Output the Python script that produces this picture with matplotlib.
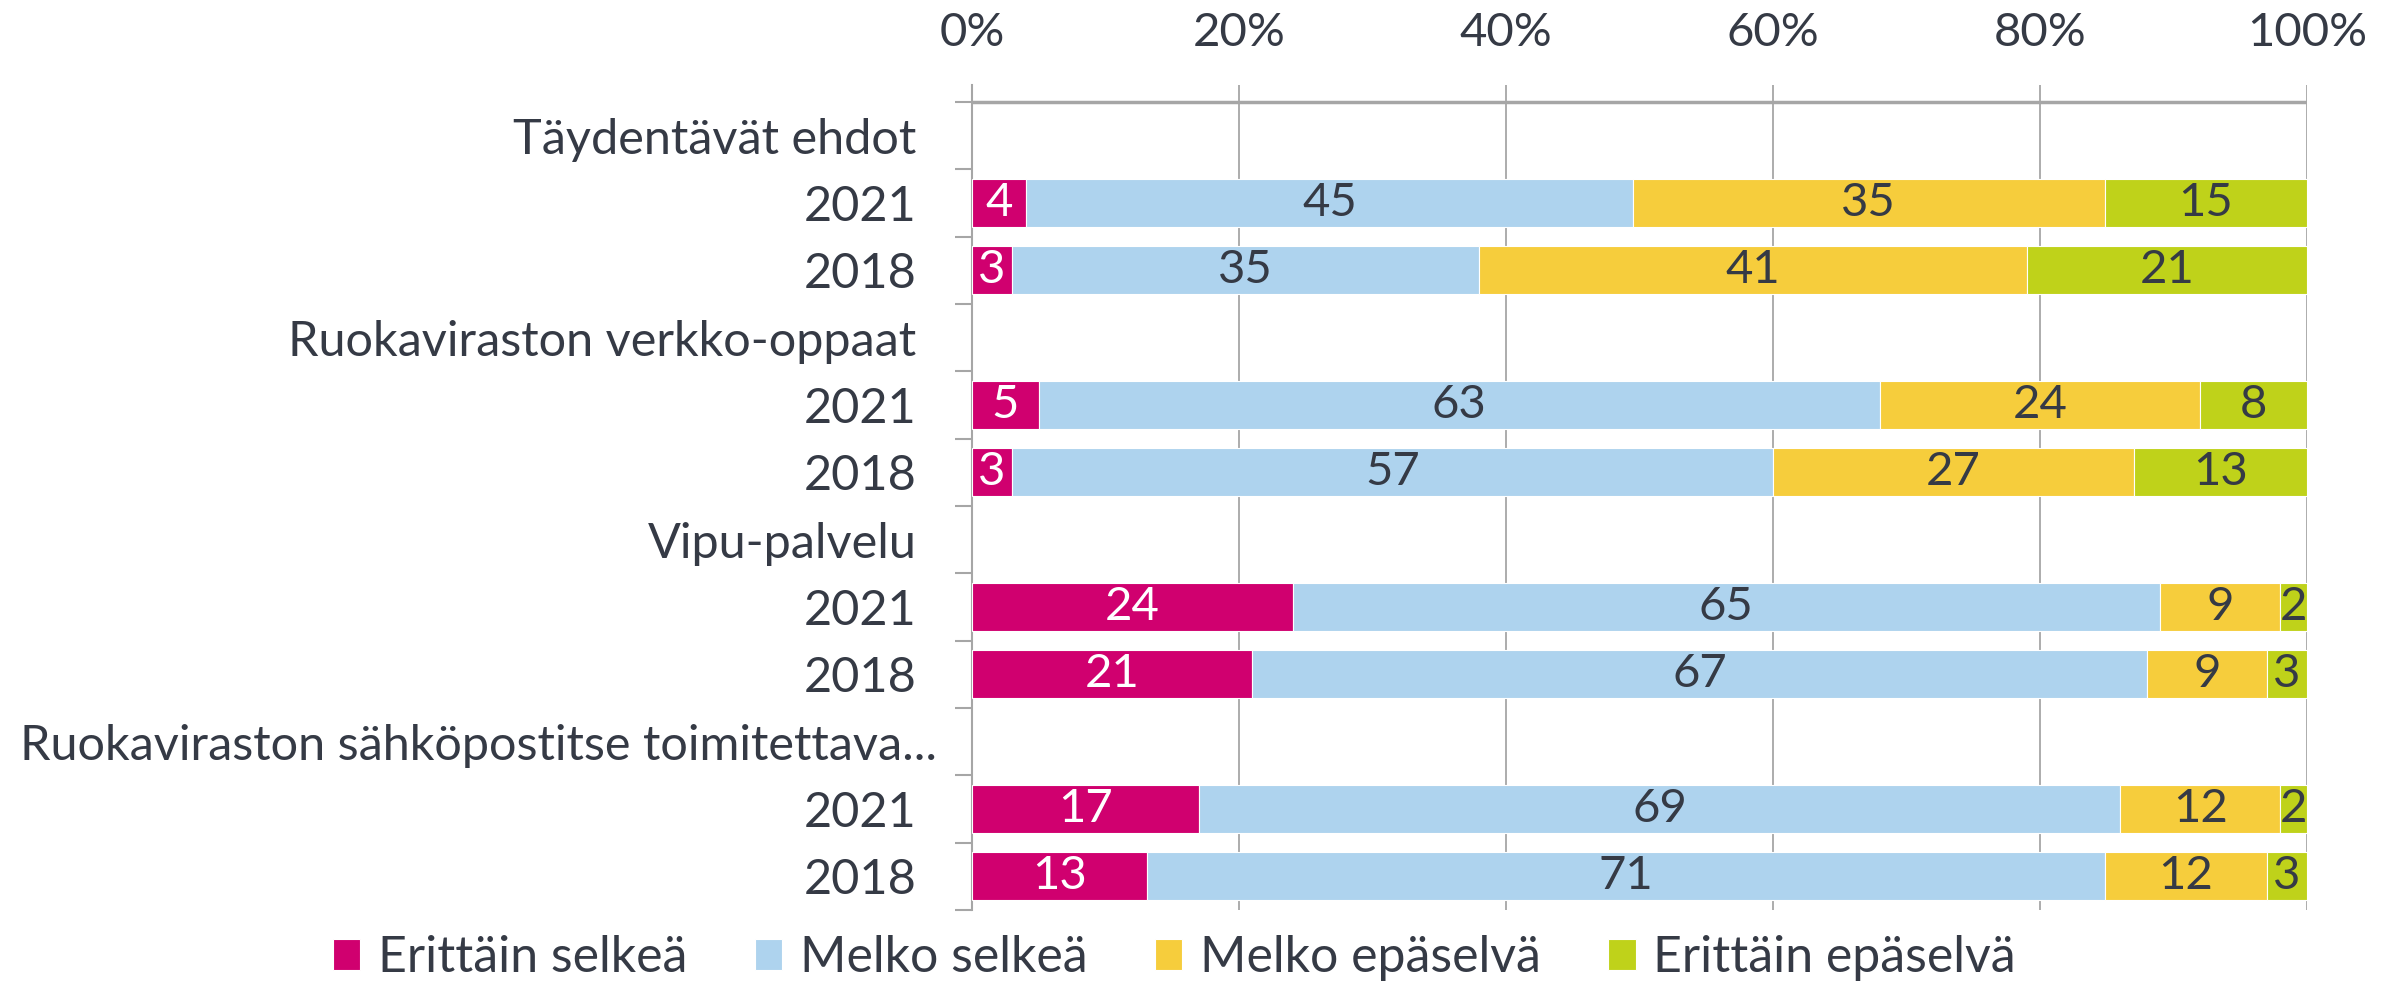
import numpy as np
import matplotlib.pyplot as plt
from matplotlib.transforms import ScaledTranslation

# Chart data: rows from top to bottom (group headers have no bar).
rowLabels = ["Täydentävät ehdot", "2021", "2018",
             "Ruokaviraston verkko-oppaat", "2021", "2018",
             "Vipu-palvelu", "2021", "2018",
             "Ruokaviraston sähköpostitse toimitettava...", "2021", "2018"]
seriesNames = ["Erittäin selkeä", "Melko selkeä", "Melko epäselvä", "Erittäin epäselvä"]
seriesColors = ["#D0006F", "#AED3EE", "#F6CD3C", "#BFD21A"]
labelColors = ["white", "#353A45", "#353A45", "#353A45"]

# Values per row (None = group header row).
erittainSelkea = [None, 4, 3, None, 5, 3, None, 24, 21, None, 17, 13]
melkoSelkea = [None, 45, 35, None, 63, 57, None, 65, 67, None, 69, 71]
melkoEpaselva = [None, 35, 41, None, 24, 27, None, 9, 9, None, 12, 12]
erittainEpaselva = [None, 15, 21, None, 8, 13, None, 2, 3, None, 2, 3]

textColor = "#353A45"
gridColor = "#A6A6A6"
plt.rcParams["font.family"] = ["Lato", "DejaVu Sans"]

fig = plt.figure(figsize=(23.92, 9.82), dpi=100)
ax = fig.add_axes([0.4064, 0.0733, 0.5581, 0.8401])

series = [erittainSelkea, melkoSelkea, melkoEpaselva, erittainEpaselva]
nRows = len(rowLabels)
for i in range(nRows):
  if series[0][i] is None:
    continue
  vals = np.array([s[i] for s in series], dtype=float)
  pct = vals / vals.sum() * 100
  left = 0.0
  for k in range(4):
    ax.barh(i, pct[k], left=left, height=0.71, color=seriesColors[k],
            edgecolor="white", linewidth=0.8, label=seriesNames[k] if i == 1 else None, zorder=3)
    ax.text(left + pct[k] / 2, i, str(int(vals[k])), ha="center", va="center",
            fontsize=34, color=labelColors[k], zorder=4)
    left += pct[k]

ax.set_xlim(0, 100)
ax.set_ylim(nRows - 0.5, -0.75)
ax.xaxis.tick_top()
ax.set_xticks(np.arange(0, 101, 20))
ax.set_xticklabels([f"{v}%" for v in range(0, 101, 20)])
ax.tick_params(axis="x", length=0, pad=22, labelsize=34, labelcolor=textColor)
ax.grid(axis="x", color=gridColor, linewidth=1.3, zorder=0)

ax.set_yticks(np.arange(nRows))
ax.set_yticklabels(rowLabels)
ax.tick_params(axis="y", length=0, pad=40, labelsize=35, labelcolor=textColor)
ax.set_yticks(np.arange(-0.5, nRows, 1), minor=True)
ax.tick_params(axis="y", which="minor", length=12, width=1.5, color=gridColor)

# The truncated long label sticks out a bit to the right, as in the original.
longLabel = ax.get_yticklabels()[9]
longLabel.set_transform(longLabel.get_transform() + ScaledTranslation(0.2, 0, fig.dpi_scale_trans))

for side in ["top", "right", "bottom"]:
  ax.spines[side].set_visible(False)
ax.spines["left"].set_color(gridColor)
ax.spines["left"].set_linewidth(1.5)
ax.axhline(-0.5, color=gridColor, linewidth=2.5, zorder=2)

handles, labels = ax.get_legend_handles_labels()
fig.legend(handles, labels, loc="lower center", bbox_to_anchor=(0.491, -0.045), ncol=4,
           frameon=False, fontsize=36, handlelength=0.55, handleheight=0.6,
           handletextpad=0.35, columnspacing=1.35, labelcolor=textColor)

fig.savefig("out.png", dpi=100)
